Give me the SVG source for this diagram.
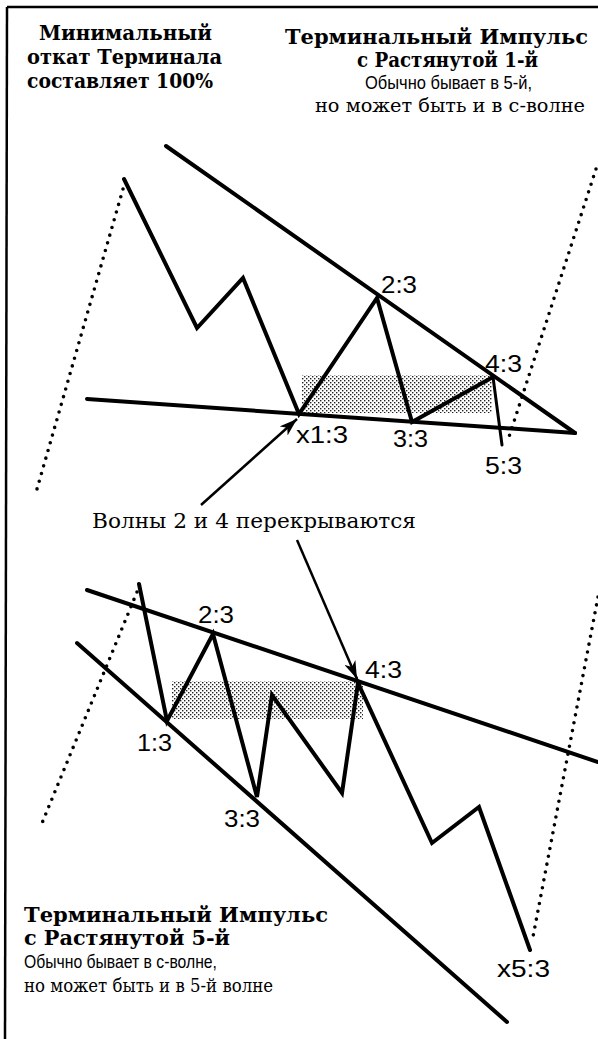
<svg xmlns="http://www.w3.org/2000/svg" width="598" height="1039" viewBox="0 0 598 1039">
  <style>
    .title { font-family: "DejaVu Serif", "Liberation Serif", serif; font-weight: bold; font-size: 20px; fill: #000; }
    .sub { font-family: "Liberation Sans", "DejaVu Sans", sans-serif; font-size: 19px; fill: #000; }
    .subs { font-family: "DejaVu Serif", "Liberation Serif", serif; font-size: 18px; fill: #000; }
    .lbl { font-family: "Liberation Sans", "DejaVu Sans", sans-serif; font-size: 23px; fill: #000; }
    .note { font-family: "DejaVu Serif", "Liberation Serif", serif; font-size: 20px; fill: #000; }
    .line { fill: none; stroke: #000; stroke-width: 4; stroke-linecap: round; stroke-linejoin: miter; }
    .thin { fill: none; stroke: #000; stroke-width: 3; stroke-linecap: round; }
    .dots { fill: none; stroke: #000; stroke-width: 3.6; stroke-linecap: round; stroke-dasharray: 0 8; }
    .arrow { fill: none; stroke: #000; stroke-width: 2.5; }
    .shade { fill: url(#stipple); stroke: none; }
  </style>
  <defs>
    <pattern id="stipple" width="4" height="4" patternUnits="userSpaceOnUse">
      <rect x="0" y="0" width="1.4" height="1.4" fill="#222"/>
      <rect x="2" y="2" width="1.4" height="1.4" fill="#222"/>
    </pattern>
    <marker id="head" markerUnits="userSpaceOnUse" markerWidth="20" markerHeight="12" refX="18" refY="6" orient="auto">
      <path d="M0,0 L18,6 L0,12 L5,6 z" fill="#000"/>
    </marker>
  </defs>

  <g id="frame">
    <line x1="7" y1="7" x2="598" y2="7" stroke="#000" stroke-width="2.5"/>
    <line x1="7" y1="7" x2="5" y2="1039" stroke="#000" stroke-width="2.5"/>
  </g>

  <g id="title-min-retrace">
    <text class="title" x="39" y="40" textLength="173" lengthAdjust="spacingAndGlyphs">Минимальный</text>
    <text class="title" x="27" y="64" textLength="195" lengthAdjust="spacingAndGlyphs">откат Терминала</text>
    <text class="title" x="27" y="88" textLength="186" lengthAdjust="spacingAndGlyphs">составляет 100%</text>
  </g>

  <g id="title-top">
    <text class="title" x="285" y="44" textLength="303" lengthAdjust="spacingAndGlyphs">Терминальный Импульс</text>
    <text class="title" x="357" y="67" textLength="181" lengthAdjust="spacingAndGlyphs">с Растянутой 1-й</text>
    <text class="sub" x="365" y="89" textLength="167" lengthAdjust="spacingAndGlyphs">Обычно бывает в 5-й,</text>
    <text class="subs" x="315" y="112" textLength="270" lengthAdjust="spacingAndGlyphs">но может быть и в с-волне</text>
  </g>

  <g id="title-bottom">
    <text class="title" x="24" y="922" textLength="304" lengthAdjust="spacingAndGlyphs">Терминальный Импульс</text>
    <text class="title" x="24" y="945" textLength="206" lengthAdjust="spacingAndGlyphs">с Растянутой 5-й</text>
    <text class="sub" x="24" y="968" textLength="193" lengthAdjust="spacingAndGlyphs">Обычно бывает в с-волне,</text>
    <text class="subs" x="24" y="992" textLength="249" lengthAdjust="spacingAndGlyphs">но может быть и в 5-й волне</text>
  </g>

  <g id="top-diagram">
    <rect class="shade" x="302" y="375" width="190" height="38"/>
    <line class="dots" x1="123" y1="189" x2="37" y2="489"/>
    <line class="dots" x1="596" y1="169" x2="508" y2="440"/>
    <line class="line" x1="166" y1="146" x2="575" y2="433"/>
    <line class="line" x1="87" y1="399" x2="575" y2="433"/>
    <polyline class="line" points="124,179 197,328 243,278 299,414 377,298 412,422 493,377"/>
    <line class="thin" x1="493" y1="377" x2="502" y2="445"/>
  </g>

  <g id="top-labels">
    <text class="lbl" x="381" y="293" textLength="36" lengthAdjust="spacingAndGlyphs">2:3</text>
    <text class="lbl" x="296" y="443" textLength="52" lengthAdjust="spacingAndGlyphs">x1:3</text>
    <text class="lbl" x="393" y="447" textLength="35" lengthAdjust="spacingAndGlyphs">3:3</text>
    <text class="lbl" x="485" y="372" textLength="37" lengthAdjust="spacingAndGlyphs">4:3</text>
    <text class="lbl" x="485" y="474" textLength="37" lengthAdjust="spacingAndGlyphs">5:3</text>
  </g>

  <g id="bottom-diagram">
    <rect class="shade" x="172" y="681" width="191" height="38"/>
    <line class="dots" x1="137" y1="592" x2="40" y2="828"/>
    <line class="dots" x1="598" y1="597" x2="532" y2="942"/>
    <line class="line" x1="87" y1="590" x2="598" y2="762"/>
    <line class="line" x1="77" y1="643" x2="507" y2="1022"/>
    <polyline class="line" points="139,584 167,721 213,634 257,797 272,695 342,793 358,683 432,843 479,807 530,950"/>
  </g>

  <g id="bottom-labels">
    <text class="lbl" x="198" y="623" textLength="36" lengthAdjust="spacingAndGlyphs">2:3</text>
    <text class="lbl" x="137" y="751" textLength="35" lengthAdjust="spacingAndGlyphs">1:3</text>
    <text class="lbl" x="224" y="827" textLength="36" lengthAdjust="spacingAndGlyphs">3:3</text>
    <text class="lbl" x="365" y="678" textLength="37" lengthAdjust="spacingAndGlyphs">4:3</text>
    <text class="lbl" x="497" y="977" textLength="53" lengthAdjust="spacingAndGlyphs">x5:3</text>
  </g>

  <g id="overlap-note">
    <text class="note" x="92" y="528" textLength="324" lengthAdjust="spacingAndGlyphs">Волны 2 и 4 перекрываются</text>
  </g>

  <g id="connectors">
    <line class="arrow" x1="201" y1="505" x2="297" y2="419" marker-end="url(#head)"/>
    <line class="arrow" x1="297" y1="540" x2="357" y2="679" marker-end="url(#head)"/>
  </g>
</svg>
